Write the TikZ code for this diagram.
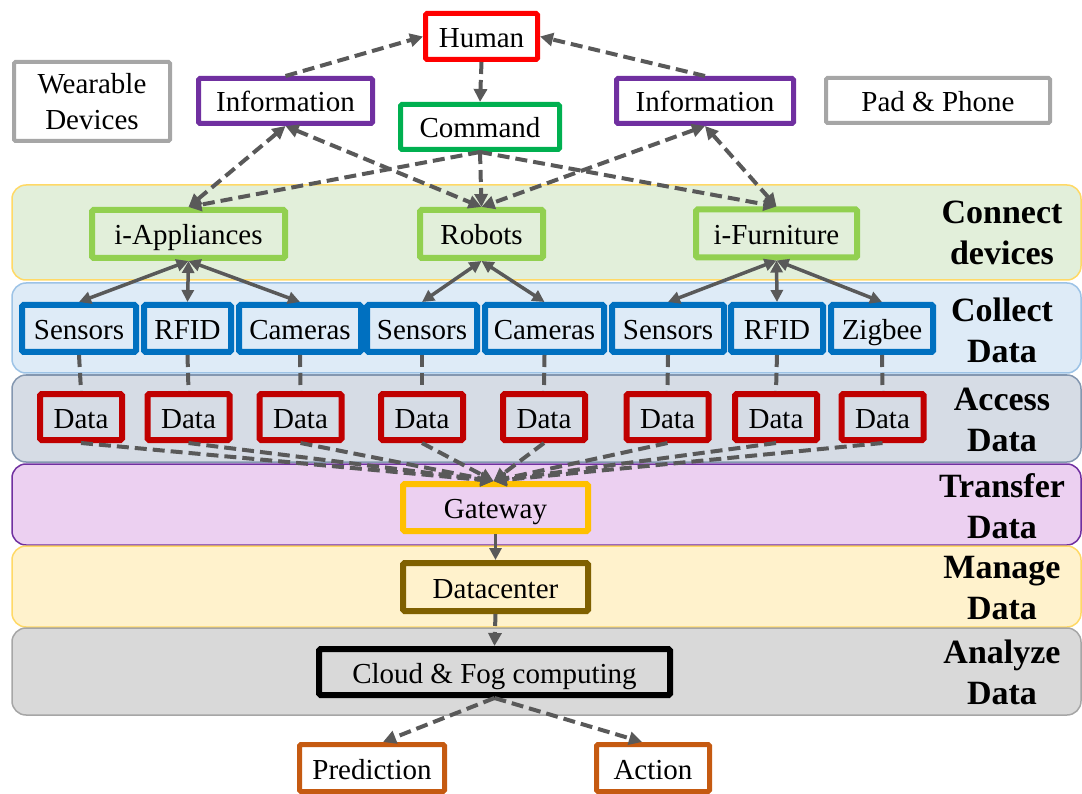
\documentclass[tikz,border=0pt]{standalone}
\usepackage{fontspec}
\setmainfont{Liberation Serif}
\newfontfamily\seriffamily{Liberation Serif}
\usetikzlibrary{arrows.meta}

\definecolor{arrowgrey}{HTML}{595959}
\definecolor{boxgrey}{HTML}{A6A6A6}
\definecolor{humanred}{HTML}{FF0000}
\definecolor{infopurple}{HTML}{7030A0}
\definecolor{cmdgreen}{HTML}{00B050}
\definecolor{devgreen}{HTML}{92D050}
\definecolor{colblue}{HTML}{0070C0}
\definecolor{datared}{HTML}{C00000}
\definecolor{gwgold}{HTML}{FFC000}
\definecolor{dcbrown}{HTML}{7F6000}
\definecolor{outorange}{HTML}{C55A11}
% layer fills and borders
\definecolor{connfill}{HTML}{E2EFDA}
\definecolor{connline}{HTML}{FFD966}
\definecolor{collfill}{HTML}{DEEBF7}
\definecolor{collline}{HTML}{9DC3E6}
\definecolor{accfill}{HTML}{D6DCE5}
\definecolor{accline}{HTML}{8497B0}
\definecolor{trfill}{HTML}{ECD0F1}
\definecolor{trline}{HTML}{7030A0}
\definecolor{mgfill}{HTML}{FFF2CC}
\definecolor{mgline}{HTML}{FFD966}
\definecolor{anfill}{HTML}{D9D9D9}
\definecolor{anline}{HTML}{A6A6A6}

\newcommand\boxfont{\seriffamily\fontsize{29}{36}\selectfont}
\newcommand\layerfont{\seriffamily\bfseries\fontsize{34}{41}\selectfont}

\tikzset{
  frame/.style={draw=#1, line width=5pt, rounded corners=1.5pt, inner sep=0pt,
    font=\boxfont, text=black, align=center},
  box/.style={frame=#1, text height=24pt, text depth=2pt},
  thickbox/.style={box=#1, line width=6pt},
  layer/.style={line width=1.5pt, rounded corners=14pt},
  layerlabel/.style={font=\layerfont, align=center, text=black, inner sep=0pt},
  darr/.style={draw=arrowgrey, line width=4pt, dash pattern=on 12pt off 6pt,
    -{Triangle[length=13pt,width=13pt]}},
  dbiarr/.style={draw=arrowgrey, line width=4pt, dash pattern=on 12pt off 6pt,
    {Triangle[length=13pt,width=13pt]}-{Triangle[length=13pt,width=13pt]}},
  dline/.style={draw=arrowgrey, line width=4pt, dash pattern=on 12pt off 6pt},
  sbiarr/.style={draw=arrowgrey, line width=3.5pt,
    {Triangle[length=12pt,width=12pt]}-{Triangle[length=12pt,width=12pt]}},
  sarr/.style={draw=arrowgrey, line width=3.5pt, -{Triangle[length=12pt,width=12pt]}},
}

\begin{document}
\begin{tikzpicture}[x=1pt,y=-1pt]
\useasboundingbox (0,0) rectangle (1082,794);

% ---- layers ----
\draw[layer, fill=connfill, draw=connline] (12,185) rectangle (1081,280);
\draw[layer, fill=collfill, draw=collline] (12,283) rectangle (1081,373);
\draw[layer, fill=accfill, draw=accline] (12,375) rectangle (1081,462);
\draw[layer, fill=trfill, draw=trline] (12,464) rectangle (1081,545);
\draw[layer, fill=mgfill, draw=mgline] (12,546) rectangle (1081,627);
\draw[layer, fill=anfill, draw=anline] (12,628) rectangle (1081,715);

\node[layerlabel] (lconn) at (1002,233) {Connect\\devices};
\node[layerlabel] (lcoll) at (1002,330) {Collect\\Data};
\node[layerlabel] (lacc) at (1002,420) {Access\\Data};
\node[layerlabel] (ltr) at (1002,506) {Transfer\\Data};
\node[layerlabel] (lmg) at (1002,588) {Manage\\Data};
\node[layerlabel] (lan) at (1002,672) {Analyze\\Data};

% ---- top ----
\node[box=humanred, fill=white, minimum width=112pt, minimum height=46pt] (human) at (481.5,36.5) {Human};
\node[box=infopurple, fill=white, minimum width=174pt, minimum height=45pt] (infoL) at (285.5,101) {Information};
\node[box=infopurple, fill=white, minimum width=177pt, minimum height=45pt] (infoR) at (705,101) {Information};
\node[box=cmdgreen, fill=white, minimum width=159pt, minimum height=45pt] (command) at (480,127) {Command};
\node[frame=boxgrey, line width=4pt, fill=white, minimum width=156pt, minimum height=79pt] (wearable) at (92,101.5) {Wearable\\Devices};
\node[box=boxgrey, line width=4pt, fill=white, minimum width=224pt, minimum height=45pt] (pad) at (938,100.5) {Pad \& Phone};

% ---- connect devices ----
\node[thickbox=devgreen, minimum width=193pt, minimum height=48pt] (iapp) at (188.5,234) {i-Appliances};
\node[thickbox=devgreen, minimum width=123pt, minimum height=48pt] (robots) at (481.5,234) {Robots};
\node[thickbox=devgreen, minimum width=161pt, minimum height=48pt] (ifurn) at (776.5,233.5) {i-Furniture};

% ---- collect data ----
\node[thickbox=colblue, minimum width=114pt, minimum height=47pt] (s1) at (79,328.5) {Sensors};
\node[thickbox=colblue, minimum width=87pt, minimum height=47pt] (r1) at (187.5,328.5) {RFID};
\node[thickbox=colblue, minimum width=122pt, minimum height=47pt] (c1) at (300,328.5) {Cameras};
\node[thickbox=colblue, minimum width=110pt, minimum height=47pt] (s2) at (422,328.5) {Sensors};
\node[thickbox=colblue, minimum width=119pt, minimum height=47pt] (c2) at (544.5,328.5) {Cameras};
\node[thickbox=colblue, minimum width=112pt, minimum height=47pt] (s3) at (668,328.5) {Sensors};
\node[thickbox=colblue, minimum width=92pt, minimum height=47pt] (r2) at (777,328.5) {RFID};
\node[thickbox=colblue, minimum width=102pt, minimum height=47pt] (zb) at (882,328.5) {Zigbee};

% ---- access data ----
\foreach \n/\x in {d1/81, d2/188.5, d3/300.5, d4/422, d5/544, d6/667.5, d7/776, d8/882.5}
  \node[thickbox=datared, minimum width=82pt, minimum height=46pt] (\n) at (\x,417) {Data};

% ---- transfer / manage / analyze ----
\node[thickbox=gwgold, minimum width=185pt, minimum height=47pt] (gw) at (495.5,507.5) {Gateway};
\node[thickbox=dcbrown, minimum width=185pt, minimum height=48pt] (dc) at (495.5,587) {Datacenter};
\node[thickbox=black, minimum width=351pt, minimum height=46pt] (cloud) at (494.5,672) {Cloud \& Fog computing};

% ---- outcomes ----
\node[box=outorange, fill=white, minimum width=145pt, minimum height=47pt] (pred) at (372,768) {Prediction};
\node[box=outorange, fill=white, minimum width=113pt, minimum height=47pt] (act) at (653,768) {Action};

% ---- connectors: human side ----
\draw[darr] (infoL.north) -- (human.west);
\draw[darr] (infoR.north) -- (human.east);
\draw[darr] (human.south) -- (command.north);
\draw[darr] (command.south) -- (iapp.north);
\draw[darr] (command.south) -- (robots.north);
\draw[darr] (command.south) -- (ifurn.north);
\draw[dbiarr] (infoL.south) -- (iapp.north);
\draw[dbiarr] (infoL.south) -- (robots.north);
\draw[dbiarr] (infoR.south) -- (robots.north);
\draw[dbiarr] (infoR.south) -- (ifurn.north);

% ---- devices to collectors ----
\draw[sbiarr] (iapp.south) -- (s1.north);
\draw[sbiarr] (iapp.south) -- (r1.north);
\draw[sbiarr] (iapp.south) -- (c1.north);
\draw[sbiarr] (robots.south) -- (s2.north);
\draw[sbiarr] (robots.south) -- (c2.north);
\draw[sbiarr] (ifurn.south) -- (s3.north);
\draw[sbiarr] (ifurn.south) -- (r2.north);
\draw[sbiarr] (ifurn.south) -- (zb.north);

% ---- collectors to data ----
\foreach \a/\b in {s1/d1, r1/d2, c1/d3, s2/d4, c2/d5, s3/d6, r2/d7, zb/d8}
  \draw[dline] (\a.south) -- (\b.north);

% ---- data to gateway ----
\foreach \b in {d1,d2,d3,d4,d5,d6,d7,d8}
  \draw[darr] (\b.south) -- ([xshift=-2pt]gw.north);

% ---- pipeline ----
\draw[sarr] (gw.south) -- (dc.north);
\draw[darr] (dc.south) -- (cloud.north);
\draw[darr] (cloud.south) -- ([xshift=11pt]pred.north);
\draw[darr] (cloud.south) -- ([xshift=-11pt]act.north);
\end{tikzpicture}
\end{document}
